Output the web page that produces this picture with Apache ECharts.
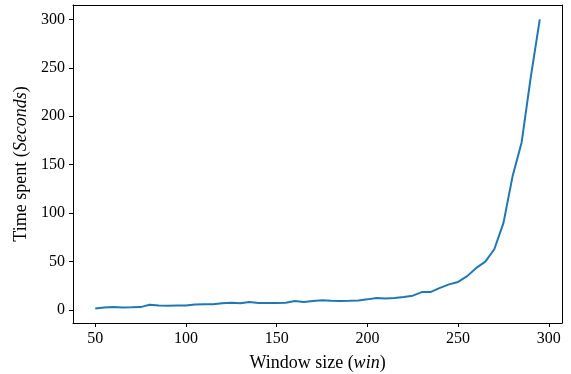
<!DOCTYPE html>
<html>
<head>
<meta charset="utf-8">
<script src="https://cdn.jsdelivr.net/npm/echarts@6/dist/echarts.min.js"></script>
<style>
  html, body { margin: 0; padding: 0; background: #fff; }
  #chart { width: 571px; height: 374px; }
</style>
</head>
<body>
<div id="chart"></div>
<script>
// window sizes and measured times
const windowSizes = [50, 55, 60, 65, 70, 75, 80, 85, 90, 95,
  100, 105, 110, 115, 120, 125, 130, 135, 140, 145,
  150, 155, 160, 165, 170, 175, 180, 185, 190, 195,
  200, 205, 210, 215, 220, 225, 230, 235, 240, 245,
  250, 255, 260, 265, 270, 275, 280, 285, 290, 295];
const timeSpent = [1.5, 2.5, 3, 2.7, 2.8, 3, 5.5, 4.6, 4.4, 4.6,
  4.6, 5.7, 6, 6, 7, 7.5, 7, 8.3, 7.2, 7.2,
  7.3, 7.5, 9.3, 8.3, 9.3, 10.2, 9.5, 9.3, 9.5, 9.8,
  11, 12.4, 12, 12.5, 13.5, 14.8, 18.5, 18.7, 22.8, 26.5,
  29, 35, 43.5, 50, 63, 90, 138, 173, 240, 300];
const xTicks = [50, 100, 150, 200, 250, 300];
const yTicks = [0, 50, 100, 150, 200, 250, 300];

const font = '"Liberation Serif", "DejaVu Serif", serif';
const nameSize = 18;
const chart = echarts.init(document.getElementById('chart'));

function nameStyle() {
  return {
    fontFamily: font, fontSize: nameSize, color: '#000',
    rich: { i: { fontFamily: font, fontSize: nameSize, fontStyle: 'italic', color: '#000' } }
  };
}

function frameAxis(position, min, max) {
  return {
    type: 'value', position: position, min: min, max: max,
    axisLine: { show: true, onZero: false, lineStyle: { color: '#000' } },
    axisTick: { show: false }, axisLabel: { show: false }, splitLine: { show: false }
  };
}

chart.setOption({
  animation: false,
  grid: { left: 73, right: 9, top: 5, bottom: 51, containLabel: false, outerBoundsMode: 'none' },
  xAxis: [{
    type: 'value',
    min: 37.75,
    max: 307.25,
    name: 'Window size ({i|win})',
    nameLocation: 'middle',
    nameGap: 31,
    nameTextStyle: nameStyle(),
    axisLine: { show: true, onZero: false, lineStyle: { color: '#000', width: 1 } },
    axisTick: { show: true, inside: false, length: 4, customValues: xTicks, lineStyle: { color: '#000' } },
    axisLabel: { customValues: xTicks, margin: 8, fontFamily: font, fontSize: 16, color: '#000' },
    splitLine: { show: false }
  }, frameAxis('top', 37.75, 307.25)],
  yAxis: [{
    type: 'value',
    min: -13.4,
    max: 314.9,
    name: 'Time spent ({i|Seconds})',
    nameLocation: 'middle',
    nameGap: 40,
    nameTextStyle: nameStyle(),
    axisLine: { show: true, onZero: false, lineStyle: { color: '#000', width: 1 } },
    axisTick: { show: true, inside: false, length: 4, customValues: yTicks, lineStyle: { color: '#000' } },
    axisLabel: { customValues: yTicks, margin: 8, fontFamily: font, fontSize: 16, color: '#000' },
    splitLine: { show: false }
  }, frameAxis('right', -13.4, 314.9)],
  series: [{
    type: 'line',
    data: windowSizes.map((w, i) => [w, timeSpent[i]]),
    showSymbol: false,
    lineStyle: { color: '#1f77b4', width: 2 },
    itemStyle: { color: '#1f77b4' }
  }]
});
</script>
</body>
</html>
